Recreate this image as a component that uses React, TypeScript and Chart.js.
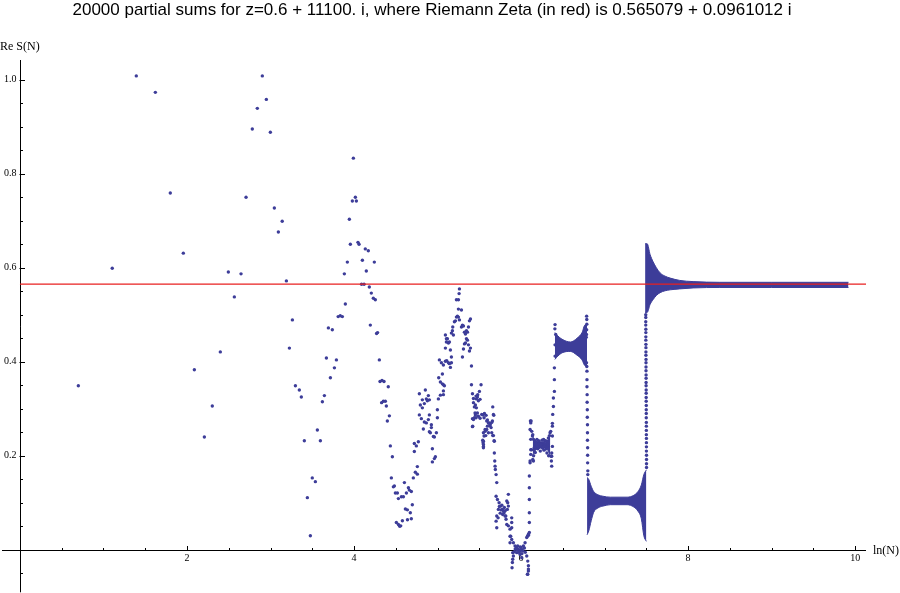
import React, { useEffect, useRef } from 'react';
import { Chart, registerables } from 'chart.js';

Chart.register(...registerables);

// ---------------- text ----------------
const TITLE = '20000 partial sums for z=0.6 + 11100. i, where Riemann Zeta (in red) is 0.565079 + 0.0961012 i';
const Y_AXIS_LABEL = 'Re S(N)';
const X_AXIS_LABEL = 'ln(N)';

// value of Re zeta (red line)
const ZETA_RE = 0.565079;

// ---------------- axes ----------------
const X_MIN = -0.215;
const X_MAX = 10.13;
const Y_MIN = -0.0882;
const Y_MAX = 1.0418;

const xMajorTicks = [2, 4, 6, 8, 10];
const xTickLabels = ['2', '4', '6', '8', '10'];
const xMinorTicks = [0.5, 1, 1.5, 2.5, 3, 3.5, 4.5, 5, 5.5, 6.5, 7, 7.5, 8.5, 9, 9.5];
const yMajorTicks = [0.2, 0.4, 0.6, 0.8, 1.0];
const yTickLabels = ['0.2', '0.4', '0.6', '0.8', '1.0'];
const yMinorTicks = [-0.05, 0.05, 0.1, 0.15, 0.25, 0.3, 0.35, 0.45, 0.5, 0.55, 0.65, 0.7, 0.75, 0.85, 0.9, 0.95];

// ---------------- data: [ln N, Re S(N)] ----------------
const earlySums = [
  [0.699, 0.349], [1.105, 0.599], [1.393, 1.008], [1.621, 0.973], [1.800, 0.759], [1.956, 0.631],
  [2.088, 0.383], [2.208, 0.240], [2.303, 0.306], [2.399, 0.421], [2.495, 0.591], [2.567, 0.538],
  [2.647, 0.587], [2.707, 0.750], [2.782, 0.895], [2.842, 0.939], [2.902, 1.008], [2.950, 0.958],
  [2.998, 0.888], [3.046, 0.727], [3.094, 0.676], [3.140, 0.699], [3.190, 0.572], [3.226, 0.429],
  [3.262, 0.489], [3.298, 0.349], [3.345, 0.340],
];

const midSums = [
  [3.369, 0.325], [3.405, 0.232], [3.441, 0.111], [3.477, 0.030], [3.500, 0.153], [3.537, 0.145],
  [3.561, 0.255], [3.597, 0.232], [3.621, 0.315], [3.645, 0.328], [3.669, 0.408], [3.693, 0.472],
  [3.717, 0.366], [3.740, 0.468], [3.765, 0.387], [3.789, 0.404], [3.810, 0.496], [3.835, 0.498],
  [3.860, 0.496], [3.884, 0.587], [3.896, 0.523], [3.920, 0.612], [3.944, 0.703], [3.956, 0.650],
  [3.980, 0.742], [3.992, 0.833], [4.016, 0.750], [4.028, 0.742], [4.047, 0.654], [4.060, 0.650],
  [4.090, 0.565], [4.100, 0.616], [4.120, 0.565], [4.135, 0.640], [4.147, 0.593], [4.171, 0.636],
  [4.183, 0.559], [4.195, 0.478], [4.207, 0.546], [4.231, 0.535], [4.243, 0.612], [4.255, 0.532],
  [4.270, 0.460], [4.282, 0.462], [4.303, 0.404], [4.311, 0.358], [4.335, 0.360], [4.359, 0.358],
  [4.330, 0.313], [4.351, 0.316], [4.375, 0.316], [4.387, 0.306], [4.399, 0.274], [4.410, 0.347],
  [4.423, 0.285], [4.435, 0.221], [4.447, 0.153], [4.459, 0.198], [4.471, 0.134], [4.483, 0.136],
  [4.495, 0.121], [4.519, 0.121], [4.531, 0.109], [4.507, 0.058], [4.531, 0.054], [4.547, 0.050],
  [4.559, 0.051], [4.567, 0.113], [4.579, 0.062], [4.591, 0.113], [4.603, 0.143], [4.615, 0.087],
  [4.627, 0.121], [4.639, 0.085], [4.640, 0.064], [4.651, 0.132], [4.662, 0.127], [4.674, 0.079],
  [4.686, 0.124], [4.686, 0.066], [4.698, 0.096], [4.710, 0.153], [4.734, 0.165], [4.758, 0.161],
  [4.758, 0.177],
];

const riseSums = [
  [4.722, 0.209], [4.722, 0.226], [4.746, 0.221], [4.770, 0.230], [4.782, 0.332], [4.794, 0.308],
  [4.818, 0.319], [4.818, 0.302], [4.842, 0.311], [4.854, 0.340], [4.866, 0.321], [4.878, 0.317],
  [4.890, 0.328], [4.902, 0.319], [4.782, 0.287], [4.806, 0.279], [4.830, 0.257], [4.842, 0.272],
  [4.866, 0.270], [4.890, 0.277], [4.902, 0.287], [4.926, 0.266], [4.926, 0.260], [4.902, 0.251],
  [4.914, 0.249], [4.950, 0.241], [4.962, 0.240], [4.986, 0.249], [4.938, 0.215], [4.962, 0.194],
  [4.974, 0.198], [4.938, 0.187], [4.998, 0.298], [4.998, 0.281], [5.010, 0.321], [5.034, 0.329],
  [5.070, 0.330], [5.014, 0.366], [5.022, 0.404], [5.034, 0.357], [5.058, 0.353], [5.070, 0.351],
  [5.082, 0.349], [5.070, 0.338], [5.046, 0.398], [5.070, 0.393], [5.058, 0.374], [5.094, 0.401],
  [5.110, 0.402], [5.130, 0.398], [5.142, 0.396], [5.154, 0.388], [5.166, 0.398], [5.094, 0.429],
  [5.106, 0.442], [5.118, 0.449], [5.130, 0.440], [5.142, 0.442], [5.154, 0.425], [5.166, 0.410],
  [5.094, 0.457], [5.106, 0.449], [5.166, 0.461], [5.178, 0.466], [5.190, 0.457], [5.182, 0.474],
  [5.202, 0.485], [5.214, 0.487], [5.226, 0.495], [5.238, 0.497], [5.250, 0.495], [5.262, 0.489],
  [5.286, 0.510], [5.250, 0.512], [5.226, 0.532], [5.250, 0.532], [5.258, 0.545], [5.262, 0.555],
  [5.286, 0.474], [5.298, 0.478], [5.310, 0.476], [5.322, 0.463], [5.334, 0.459], [5.346, 0.466],
  [5.358, 0.463], [5.370, 0.474], [5.382, 0.487], [5.394, 0.491], [5.298, 0.410], [5.310, 0.427],
  [5.322, 0.438], [5.334, 0.440], [5.346, 0.449], [5.358, 0.446], [5.370, 0.436], [5.382, 0.423],
  [5.394, 0.429], [5.406, 0.391], [5.406, 0.351],
];

const fallSums = [
  [5.418, 0.332], [5.430, 0.313], [5.441, 0.304], [5.453, 0.308], [5.465, 0.321], [5.477, 0.325],
  [5.489, 0.317], [5.465, 0.302], [5.477, 0.291], [5.453, 0.287], [5.441, 0.281], [5.418, 0.279],
  [5.430, 0.277], [5.418, 0.262], [5.421, 0.263], [5.430, 0.322], [5.461, 0.327], [5.481, 0.330],
  [5.501, 0.337], [5.521, 0.351], [5.509, 0.320], [5.449, 0.291], [5.461, 0.281], [5.489, 0.284],
  [5.509, 0.280], [5.541, 0.287], [5.561, 0.290], [5.581, 0.286], [5.597, 0.276], [5.617, 0.270],
  [5.629, 0.264], [5.641, 0.260], [5.657, 0.274], [5.673, 0.286], [5.661, 0.304], [5.669, 0.243],
  [5.677, 0.232], [5.589, 0.256], [5.609, 0.249], [5.569, 0.252], [5.557, 0.242], [5.545, 0.228],
  [5.549, 0.220], [5.541, 0.233], [5.529, 0.288], [5.557, 0.281], [5.589, 0.274], [5.609, 0.270],
  [5.629, 0.267], [5.649, 0.271], [5.669, 0.288], [5.597, 0.263], [5.569, 0.256], [5.549, 0.249],
  [5.577, 0.243], [5.649, 0.249], [5.661, 0.243], [5.680, 0.231], [5.549, 0.231], [5.549, 0.224],
  [5.549, 0.217], [5.680, 0.206], [5.685, 0.189], [5.689, 0.178], [5.692, 0.171], [5.701, 0.160],
  [5.709, 0.143],
];

const clusterASums = [
  [5.701, 0.114], [5.717, 0.107], [5.737, 0.100], [5.757, 0.093], [5.776, 0.086], [5.796, 0.079],
  [5.817, 0.072], [5.836, 0.086], [5.848, 0.093], [5.829, 0.104], [5.848, 0.118], [5.728, 0.086],
  [5.709, 0.072], [5.701, 0.061], [5.709, 0.047], [5.808, 0.072], [5.820, 0.065], [5.829, 0.054],
  [5.848, 0.051], [5.868, 0.044], [5.888, 0.047], [5.888, 0.068], [5.888, 0.058], [5.760, 0.085],
  [5.790, 0.082], [5.750, 0.078], [5.800, 0.090], [5.770, 0.095], [5.780, 0.075], [5.740, 0.092],
  [5.810, 0.083], [5.725, 0.068], [5.840, 0.100],
];

const clusterBSums = [
  [5.868, 0.029], [5.888, 0.022], [5.908, 0.015], [5.928, 0.008], [5.948, 0.005], [5.968, 0.001],
  [5.988, -0.003], [6.008, 0.001], [6.028, 0.008], [6.048, 0.015], [6.068, 0.026], [6.088, 0.031],
  [5.908, -0.013], [5.896, -0.027], [5.892, -0.038], [6.068, -0.013], [6.080, -0.024], [6.088, -0.034],
  [6.088, -0.045], [6.080, -0.052], [5.988, -0.010], [6.008, -0.017], [5.948, -0.006], [5.868, 0.015],
  [5.900, -0.006], [5.900, -0.020], [5.876, 0.029], [6.076, 0.029], [6.088, 0.033], [6.076, -0.052],
  [6.088, -0.041], [5.950, 0.000], [5.970, -0.005], [6.000, 0.005], [6.020, -0.002], [5.930, 0.002],
  [6.040, 0.004], [5.960, 0.008], [6.010, -0.008], [5.990, 0.006], [5.920, -0.004], [6.050, -0.005],
];

const chainBC = [
  [6.099, 0.037], [6.099, 0.058], [6.099, 0.079], [6.099, 0.107], [6.099, 0.132], [6.099, 0.157],
  [6.108, 0.189], [6.116, 0.213], [6.116, 0.235], [6.108, 0.256], [6.112, 0.274],
];

const clusterCSums = [
  [6.116, 0.270], [6.120, 0.274], [6.128, 0.252], [6.136, 0.242], [6.148, 0.235], [6.168, 0.231],
  [6.188, 0.228], [6.208, 0.226], [6.228, 0.228], [6.248, 0.226], [6.267, 0.228], [6.287, 0.224],
  [6.307, 0.231], [6.327, 0.238], [6.347, 0.249], [6.355, 0.252], [6.128, 0.213], [6.116, 0.203],
  [6.140, 0.192], [6.148, 0.189], [6.367, 0.206], [6.359, 0.199], [6.363, 0.189], [6.108, 0.185],
  [6.180, 0.220], [6.200, 0.215], [6.220, 0.218], [6.240, 0.220], [6.260, 0.216], [6.280, 0.220],
  [6.300, 0.215], [6.160, 0.218], [6.320, 0.222], [6.190, 0.235], [6.270, 0.235], [6.230, 0.210],
  [6.210, 0.232], [6.250, 0.233], [6.290, 0.232], [6.170, 0.207], [6.310, 0.206], [6.150, 0.200],
  [6.330, 0.200], [6.140, 0.245], [6.340, 0.243], [6.195, 0.222], [6.235, 0.224], [6.275, 0.212],
];

const chainCD = [
  [6.367, 0.178], [6.367, 0.199], [6.375, 0.220], [6.375, 0.242], [6.375, 0.263], [6.375, 0.269],
  [6.379, 0.288], [6.387, 0.305], [6.387, 0.323], [6.399, 0.337], [6.399, 0.362], [6.399, 0.387],
  [6.407, 0.412], [6.407, 0.436], [6.415, 0.458], [6.407, 0.479], [6.405, 0.470],
];

const clusterDTails = [
  [6.785, 0.497], [6.787, 0.490], [6.787, 0.480], [6.785, 0.468], [6.783, 0.458], [6.780, 0.452],
  [6.783, 0.398], [6.787, 0.390],
];

const chainDE = [
  [6.789, 0.380], [6.789, 0.362], [6.789, 0.347], [6.791, 0.330], [6.791, 0.314], [6.793, 0.298],
  [6.793, 0.282], [6.795, 0.266], [6.795, 0.249], [6.795, 0.233], [6.797, 0.217], [6.797, 0.201],
  [6.797, 0.185], [6.799, 0.168], [6.799, 0.160],
];

const chainEF = [
  [7.502, 0.175], [7.502, 0.183], [7.502, 0.192], [7.502, 0.201], [7.501, 0.210], [7.501, 0.219],
  [7.501, 0.228], [7.501, 0.237], [7.500, 0.245], [7.500, 0.254], [7.500, 0.263], [7.500, 0.271],
  [7.499, 0.281], [7.499, 0.290], [7.499, 0.298], [7.499, 0.307], [7.498, 0.316], [7.498, 0.324],
  [7.498, 0.333], [7.498, 0.340], [7.497, 0.349], [7.497, 0.356], [7.497, 0.365], [7.497, 0.372],
  [7.496, 0.381], [7.496, 0.389], [7.496, 0.398], [7.496, 0.405], [7.495, 0.414], [7.495, 0.421],
  [7.495, 0.430], [7.495, 0.437], [7.494, 0.446], [7.494, 0.453], [7.494, 0.462], [7.494, 0.469],
  [7.493, 0.478], [7.493, 0.485], [7.493, 0.494], [7.493, 0.500],
];

// dense clusters: outline (upper / lower edge)
const clusterCX = [6.14, 6.18, 6.23, 6.28, 6.32, 6.35];
const clusterCUpper = [0.240, 0.231, 0.228, 0.228, 0.233, 0.244];
const clusterCLower = [0.203, 0.213, 0.217, 0.217, 0.212, 0.200];

const clusterDX = [6.405, 6.44, 6.49, 6.59, 6.67, 6.73, 6.765, 6.79];
const clusterDUpper = [0.462, 0.455, 0.448, 0.442, 0.450, 0.462, 0.478, 0.478];
const clusterDLower = [0.405, 0.412, 0.419, 0.422, 0.414, 0.404, 0.392, 0.392];

const clusterEX = [6.79, 6.81, 6.84, 6.87, 6.92, 6.98, 7.07, 7.27, 7.35, 7.40, 7.44, 7.47, 7.50];
const clusterEUpper = [0.154, 0.150, 0.135, 0.124, 0.117, 0.114, 0.112, 0.112, 0.116, 0.124, 0.138, 0.160, 0.170];
const clusterELower = [0.032, 0.040, 0.062, 0.080, 0.089, 0.093, 0.096, 0.096, 0.091, 0.082, 0.066, 0.030, 0.018];

const clusterFX = [7.485, 7.51, 7.545, 7.58, 7.62, 7.665, 7.725, 7.785, 7.90, 8.06, 8.38, 9.0, 9.92];
const clusterFUpper = [0.651, 0.651, 0.628, 0.613, 0.600, 0.589, 0.582, 0.578, 0.573, 0.5705, 0.569, 0.569, 0.569];
const clusterFLower = [0.505, 0.505, 0.522, 0.532, 0.541, 0.547, 0.551, 0.553, 0.555, 0.557, 0.558, 0.558, 0.558];

// ---------------- style ----------------
const POINT_COLOR = '#3d3d99';
const RED = 'rgb(232,32,32)';

const toXY = (pts: number[][]) => pts.map(([x, y]) => ({ x, y }));
const edge = (xs: number[], ys: number[]) => xs.map((x, i) => ({ x, y: ys[i] }));

const axesPlugin = {
  id: 'mathematicaAxes',
  beforeDatasetsDraw(chart: any) {
    const { ctx, chartArea, scales } = chart;
    const xs = scales.x;
    const ys = scales.y;
    const x0 = Math.round(xs.getPixelForValue(0)) + 0.5;
    const y0 = Math.round(ys.getPixelForValue(0)) + 0.5;
    ctx.save();
    ctx.strokeStyle = '#000';
    ctx.lineWidth = 1;
    ctx.beginPath();
    ctx.moveTo(chartArea.left, y0);
    ctx.lineTo(chartArea.right, y0);
    ctx.moveTo(x0, chartArea.top);
    ctx.lineTo(x0, chartArea.bottom + 1);
    xMajorTicks.forEach((t) => {
      const p = Math.round(xs.getPixelForValue(t)) + 0.5;
      ctx.moveTo(p, y0);
      ctx.lineTo(p, y0 - 4.5);
    });
    xMinorTicks.forEach((t) => {
      const p = Math.round(xs.getPixelForValue(t)) + 0.5;
      ctx.moveTo(p, y0);
      ctx.lineTo(p, y0 - 2.5);
    });
    yMajorTicks.forEach((t) => {
      const p = Math.round(ys.getPixelForValue(t)) + 0.5;
      ctx.moveTo(x0 - 1, p);
      ctx.lineTo(x0 + 4.5, p);
    });
    yMinorTicks.forEach((t) => {
      const p = Math.round(ys.getPixelForValue(t)) + 0.5;
      ctx.moveTo(x0, p);
      ctx.lineTo(x0 + 2.5, p);
    });
    ctx.stroke();

    ctx.fillStyle = '#000';
    ctx.font = '10px "Liberation Serif", "Times New Roman", serif';
    ctx.textAlign = 'center';
    ctx.textBaseline = 'top';
    xMajorTicks.forEach((t, i) => {
      ctx.fillText(xTickLabels[i], xs.getPixelForValue(t), y0 + 3);
    });
    ctx.textAlign = 'right';
    ctx.textBaseline = 'middle';
    yMajorTicks.forEach((t, i) => {
      ctx.fillText(yTickLabels[i], x0 - 4, ys.getPixelForValue(t));
    });

    ctx.font = '12px "Liberation Serif", "Times New Roman", serif';
    ctx.textAlign = 'left';
    ctx.textBaseline = 'alphabetic';
    ctx.fillText(Y_AXIS_LABEL, 0, 50);
    ctx.textBaseline = 'middle';
    ctx.fillText(X_AXIS_LABEL, 873, y0);

    ctx.font = '17px "Liberation Sans", Arial, Helvetica, sans-serif';
    ctx.textAlign = 'center';
    ctx.textBaseline = 'alphabetic';
    ctx.fillText(TITLE, 432, 14.5);
    ctx.restore();
  },
};

export default function App() {
  const canvasRef = useRef<HTMLCanvasElement | null>(null);

  useEffect(() => {
    const canvas = canvasRef.current;
    if (!canvas) return;

    const allSums = [
      ...earlySums, ...midSums, ...riseSums, ...fallSums, ...clusterASums, ...clusterBSums,
      ...chainBC, ...clusterCSums, ...chainCD, ...clusterDTails, ...chainDE, ...chainEF,
    ];

    const clusters = [
      { x: clusterCX, upper: clusterCUpper, lower: clusterCLower },
      { x: clusterDX, upper: clusterDUpper, lower: clusterDLower },
      { x: clusterEX, upper: clusterEUpper, lower: clusterELower },
      { x: clusterFX, upper: clusterFUpper, lower: clusterFLower },
    ];

    const clusterSets: any[] = [];
    clusters.forEach((c) => {
      clusterSets.push({
        type: 'line',
        data: edge(c.x, c.upper),
        borderColor: POINT_COLOR,
        borderWidth: 1,
        backgroundColor: POINT_COLOR,
        pointRadius: 0,
        fill: '+1',
        cubicInterpolationMode: 'monotone',
        order: 2,
      });
      clusterSets.push({
        type: 'line',
        data: edge(c.x, c.lower),
        borderColor: POINT_COLOR,
        borderWidth: 1,
        backgroundColor: POINT_COLOR,
        pointRadius: 0,
        fill: false,
        cubicInterpolationMode: 'monotone',
        order: 2,
      });
    });

    const chart = new Chart(canvas, {
      type: 'scatter',
      data: {
        datasets: [
          {
            type: 'line',
            data: [{ x: 0, y: ZETA_RE }, { x: X_MAX, y: ZETA_RE }],
            borderColor: RED,
            borderWidth: 1.2,
            pointRadius: 0,
            fill: false,
            order: 0,
          } as any,
          {
            type: 'scatter',
            data: toXY(allSums),
            backgroundColor: POINT_COLOR,
            borderColor: POINT_COLOR,
            pointRadius: 1.7,
            pointBorderWidth: 0,
            pointHoverRadius: 1.7,
            order: 1,
          } as any,
          ...clusterSets,
        ],
      },
      options: {
        responsive: false,
        animation: false,
        devicePixelRatio: 1,
        events: [],
        layout: { padding: { left: 2, top: 60, right: 34, bottom: 1 } },
        scales: {
          x: { type: 'linear', min: X_MIN, max: X_MAX, display: false },
          y: { type: 'linear', min: Y_MIN, max: Y_MAX, display: false },
        },
        plugins: {
          legend: { display: false },
          tooltip: { enabled: false },
          title: { display: false },
        },
      } as any,
      plugins: [axesPlugin],
    });

    return () => chart.destroy();
  }, []);

  return (
    <div style={{ position: 'fixed', left: 0, top: 0, width: 900, height: 593, background: '#fff' }}>
      <canvas ref={canvasRef} width={900} height={593} style={{ display: 'block' }} />
    </div>
  );
}
